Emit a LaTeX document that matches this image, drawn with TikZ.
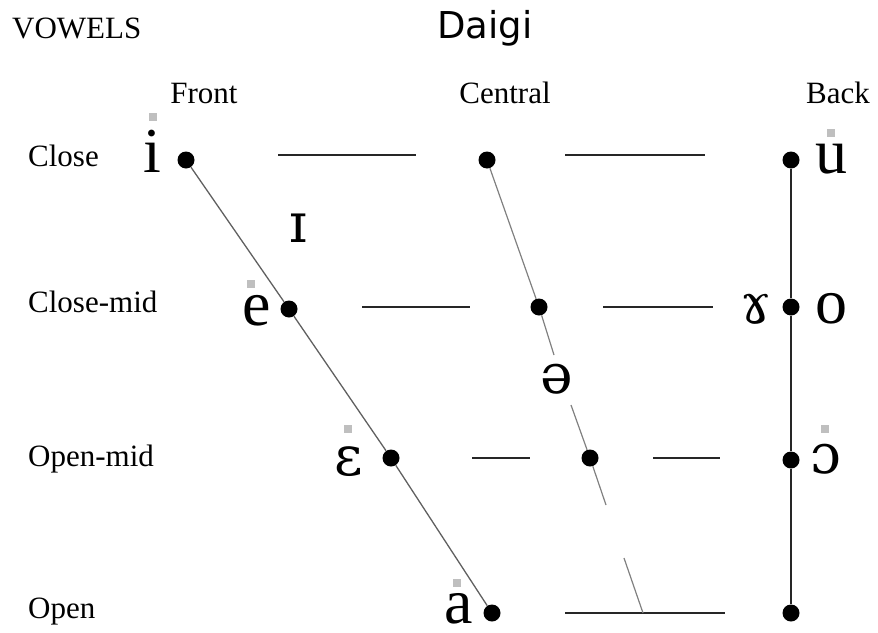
\documentclass[tikz,border=0pt]{standalone}
\usepackage{fontspec}
\setmainfont{Liberation Serif}
\newfontfamily\daigifont{DejaVu Sans}
\newfontfamily\ipafont{DejaVu Serif}
\usetikzlibrary{positioning}

\begin{document}
\begin{tikzpicture}[
    x=1pt, y=-1pt,
    dot/.style={circle, fill=black, inner sep=0pt, minimum size=17pt},
    lbl/.style={anchor=base west, inner sep=0pt, font=\fontsize{31}{36}\selectfont},
    head/.style={anchor=base, inner sep=0pt, font=\fontsize{31}{36}\selectfont},
    vow/.style={anchor=base, inner sep=0pt, text depth=0pt, font=\fontsize{64}{70}\selectfont},
    ipa/.style={vow, font=\ipafont\fontsize{55}{60}\selectfont},
    tonebox/.style={fill=gray!50, inner sep=0pt, minimum size=8pt},
    grid/.style={line width=2pt, black!85},
    fline/.style={line width=1.3pt, gray!75!black},
    cline/.style={line width=1.2pt, gray},
    bline/.style={line width=2pt, black!85}
]
\useasboundingbox (0,0) rectangle (878,632);

% titles
\node[lbl] (vowels) at (12,38) {VOWELS};
\node[anchor=base, inner sep=0pt, font=\daigifont\fontsize{37}{40}\selectfont] (daigi) at (485,38) {Daigi};
\node[head] (front) at (204,103) {Front};
\node[head] (central) at (505,103) {Central};
\node[head] (back) at (838,103) {Back};

% row labels
\node[lbl] (close) at (28,166) {Close};
\node[lbl] (closemid) at (28,312) {Close-mid};
\node[lbl] (openmid) at (28,466) {Open-mid};
\node[lbl] (open) at (28,618) {Open};

% horizontal rows
\foreach \xa/\xb/\yy in {278/416/155, 565/705/155, 362/470/307, 603/713/307,
                         472/530/458, 653/720/458, 565/725/613}
    \draw[grid] (\xa,\yy) -- (\xb,\yy);

% dots
\node[dot] (fi) at (186,160) {};
\node[dot] (fe) at (289,309) {};
\node[dot] (feps) at (391,458) {};
\node[dot] (fa) at (492,613) {};
\node[dot] (ci) at (487,160) {};
\node[dot] (ce) at (539,307) {};
\node[dot] (ceps) at (590,458) {};
\node[dot] (bu) at (791,160) {};
\node[dot] (bo) at (791,307) {};
\node[dot] (bopen) at (791,460) {};
\node[dot] (ba) at (791,613) {};

% central line, broken
\coordinate (cgapa) at (554,355);
\coordinate (cgapb) at (571,405);
\coordinate (cgapc) at (606,505);
\coordinate (cgapd) at (624,558);
\coordinate (cend) at (643,613);

\draw[fline] (fi) -- (fe) -- (feps) -- (fa);
\draw[cline] (ci) -- (ce) -- (cgapa);
\draw[cline] (cgapb) -- (ceps) -- (cgapc);
\draw[cline] (cgapd) -- (cend);
\draw[bline] (bu) -- (bo) -- (bopen) -- (ba);

% vowels
\node[vow] (vi) at (152,172) {i};
\node[ipa] (vsmalli) at (298,242) {ɪ};
\node[vow] (ve) at (257,325) {e};
\node[ipa] (veps) at (349,475) {ɛ};
\node[vow] (va) at (459,623) {a};
\node[ipa] (vschwa) at (557,393) {ə};
\node[vow] (vu) at (831,173) {u};
\node[ipa] (vgamma) at (756,323) {ɤ};
\node[vow] (vo) at (831,323) {o};
\node[ipa] (vopeno) at (826,473) {ɔ};

% tone placeholders
\node[tonebox] (ti) at (153,117) {};
\node[tonebox] (te) at (251,284) {};
\node[tonebox] (teps) at (348,429) {};
\node[tonebox] (ta) at (457,583) {};
\node[tonebox] (tu) at (831,133) {};
\node[tonebox] (topeno) at (825,429) {};

\end{tikzpicture}
\end{document}
